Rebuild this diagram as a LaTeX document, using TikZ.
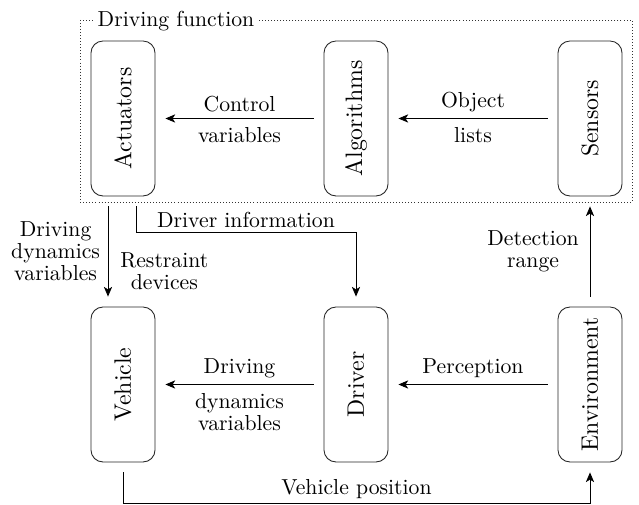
\documentclass[tikz,border=0pt]{standalone}
\usepackage{graphicx}
\usetikzlibrary{arrows.meta,calc}
\begin{document}
\begin{tikzpicture}[x=0.4608pt,y=-0.4608pt,
  blk/.style={draw=black!85, rounded corners=5.5pt, minimum width=29.5pt, minimum height=71.4pt,
    inner sep=0pt, font=\fontsize{10.95}{13}\selectfont},
  lbl/.style={align=center, inner sep=3pt, font=\fontsize{10}{10.2}\selectfont},
  arr/.style={-{Stealth[length=4.5pt,width=3.8pt,inset=1.2pt]}, shorten <=4.6pt, shorten >=4.6pt}]
\useasboundingbox (0,0) rectangle (639,505);
% frame
\draw[densely dotted, black!80] (80,20) rectangle (632,202);
\node[lbl, fill=white, anchor=base west, inner sep=1.5pt] (df) at (94,27) {Driving function};
% boxes
\node[blk] (act) at (123,118.5) {\rotatebox{90}{Actuators}};
\node[blk] (alg) at (356,118.5) {\rotatebox{90}{Algorithms}};
\node[blk] (sen) at (590,118.5) {\rotatebox{90}{Sensors}};
\node[blk] (veh) at (123,384.5) {\rotatebox{90}{Vehicle}};
\node[blk] (drv) at (356,384.5) {\rotatebox{90}{Driver}};
\node[blk] (env) at (590,384.5) {\rotatebox{90}{Environment}};
% top row arrows
\draw[arr] (alg.west) -- (act.east)
  node[lbl, midway, above] {Control}
  node[lbl, midway, below, yshift=-1pt] {variables};
\draw[arr] (sen.west) -- (alg.east)
  node[lbl, midway, above] {Object}
  node[lbl, midway, below, yshift=-1pt] {lists};
% bottom row arrows
\draw[arr] (drv.west) -- (veh.east)
  node[lbl, midway, above] {Driving}
  node[lbl, midway, below, yshift=-1pt] {dynamics\\variables};
\draw[arr] (env.west) -- (drv.east)
  node[lbl, midway, above] {Perception};
% vertical connections
\coordinate (a1) at ($(act.south)+(-15,0)$);
\coordinate (v1) at ($(veh.north)+(-15,0)$);
\draw[arr] (a1) -- (v1)
  node[lbl, midway, left, xshift=-0.5pt] {Driving\\dynamics\\variables}
  node[lbl, pos=0.68, right, xshift=2.5pt] {Restraint\\devices};
\coordinate (a2) at ($(act.south)+(13,0)$);
\coordinate (d2) at ($(drv.north)+(0,-74)$);
\draw[arr] (a2) |- node[lbl, pos=0.75, above, inner sep=2pt] {Driver information} (d2) -- (drv.north);
\draw[arr] (env.north) -- (sen.south)
  node[lbl, midway, left, xshift=-2pt] {Detection\\range};
\coordinate (vp) at ($(veh.south)+(0,41)$);
\draw[arr] (veh.south) -- (vp) -| node[lbl, pos=0.25, above, inner sep=2pt] {Vehicle position} (env.south);
\end{tikzpicture}
\end{document}
